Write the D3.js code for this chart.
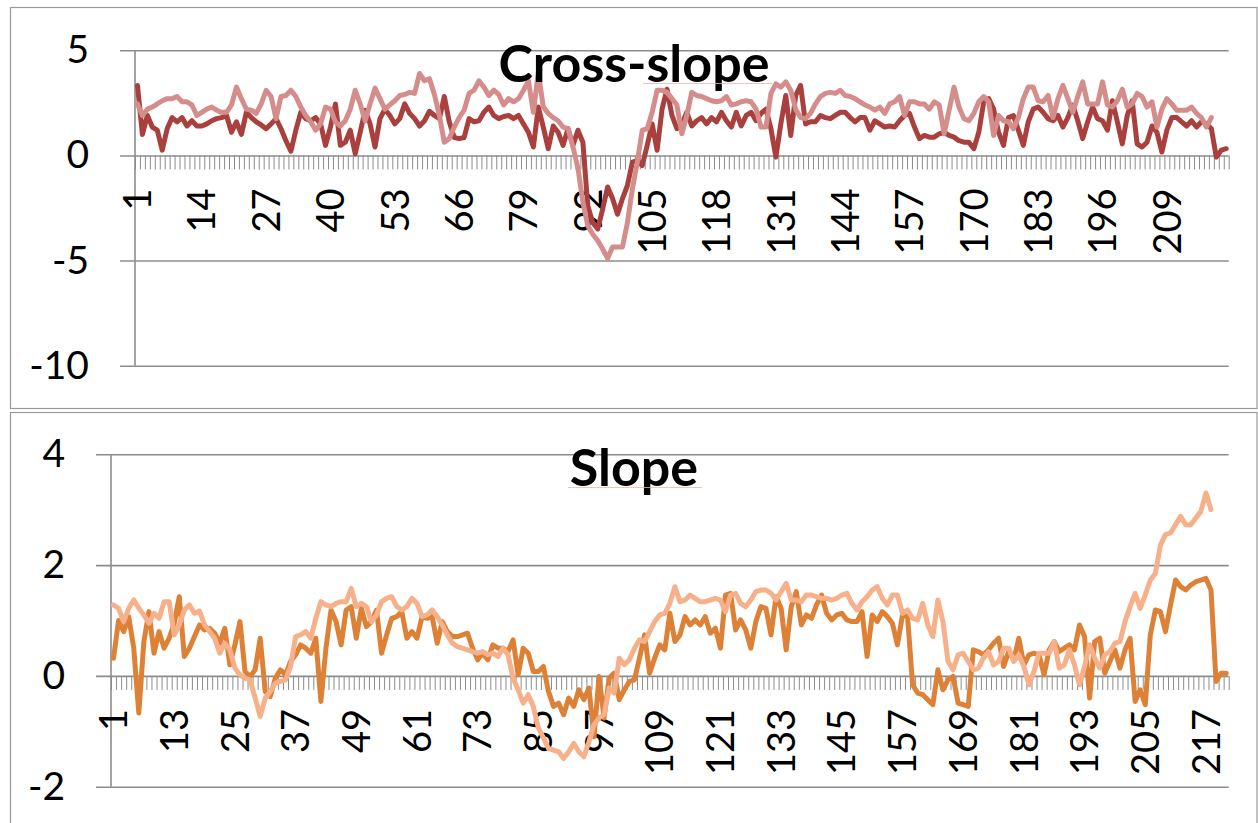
<!DOCTYPE html>
<html>
<head>
<meta charset="utf-8">
<script src="https://cdn.jsdelivr.net/npm/d3@7"></script>
<style>
  html, body { margin: 0; padding: 0; background: #fff; }
  svg { display: block; font-family: Lato, 'Open Sans', sans-serif; }
</style>
</head>
<body>
<svg id="container" width="1258" height="823"></svg>
<script>
// Cross-slope, darker series (221 points)
const crossDark = [
  3.33, 1.0, 1.9, 1.35, 1.2, 0.25, 1.27, 1.8, 1.6, 1.8,
  1.4, 1.65, 1.4, 1.4, 1.5, 1.65, 1.75, 1.8, 1.9, 1.1,
  1.6, 1.0, 2.05, 1.8, 1.6, 1.45, 1.27, 1.5, 1.75, 1.27,
  0.7, 0.2, 1.2, 2.05, 1.75, 1.65, 1.8, 1.5, 0.48, 1.35,
  2.45, 0.48, 0.63, 1.2, 0.08, 1.1, 2.15, 1.5, 0.4, 1.75,
  2.2, 1.9, 1.5, 1.75, 2.45, 2.0, 1.75, 1.4, 1.65, 2.1,
  1.9, 1.75, 2.8, 1.6, 0.85, 0.8, 0.85, 1.75, 1.6, 1.65,
  2.05, 2.3, 1.9, 1.75, 1.85, 1.9, 1.75, 1.9, 1.5, 1.1,
  0.4, 2.3, 1.35, 0.32, 1.4, 1.1, 0.48, 1.27, 0.48, 1.2,
  0.63, -2.4, -3.2, -3.5, -2.55, -1.5, -2.05, -2.8, -2.05, -1.43,
  -0.32, -0.25, -0.48, 0.48, 1.5, 0.25, 2.2, 3.15, 1.9, 1.27,
  1.5, 2.05, 1.4, 1.65, 1.8, 1.5, 1.8, 1.6, 2.05, 1.65,
  1.35, 2.05, 1.4, 1.9, 2.05, 1.65, 2.0, 2.2, 1.27, -0.08,
  1.5, 2.85, 0.95, 2.85, 3.33, 1.5, 1.6, 1.6, 1.9, 1.8,
  1.75, 1.9, 2.05, 2.05, 1.8, 1.6, 1.8, 1.8, 1.2, 1.65,
  1.5, 1.35, 1.4, 1.35, 1.65, 1.9, 2.0, 1.35, 0.8, 0.95,
  0.87, 0.87, 1.03, 1.1, 0.95, 0.87, 0.7, 0.63, 0.63, 0.32,
  1.1, 2.55, 2.7, 2.2, 1.1, 0.48, 1.8, 1.9, 1.2, 0.48,
  1.6, 2.2, 2.3, 2.05, 1.75, 1.65, 1.9, 1.35, 1.8, 2.4,
  1.65, 0.8, 1.6, 2.3, 1.75, 1.65, 1.2, 2.6, 1.6, 0.55,
  1.9, 2.6, 0.55, 0.4, 0.63, 1.4, 1.1, 0.16, 1.2, 1.8,
  1.8, 1.6, 1.4, 1.65, 1.35, 1.6, 1.5, 1.27, -0.08, 0.25, 0.32
]

// Cross-slope, lighter series (218 points)
const crossLight = [
  2.45, 1.9, 2.2, 2.3, 2.45, 2.6, 2.7, 2.7, 2.8, 2.55,
  2.55, 2.4, 1.9, 2.05, 2.2, 2.3, 2.15, 2.05, 2.05, 2.4,
  3.25, 2.7, 2.2, 2.15, 2.0, 2.45, 3.1, 2.8, 1.75, 2.8,
  2.85, 3.1, 2.8, 2.3, 1.9, 1.6, 1.2, 1.5, 2.3, 2.2,
  1.6, 1.4, 1.65, 2.2, 3.1, 2.45, 1.65, 2.45, 3.2, 2.7,
  2.2, 2.4, 2.6, 2.85, 2.9, 3.0, 2.95, 3.9, 3.55, 3.65,
  2.9, 1.9, 0.63, 0.8, 1.35, 1.8, 2.15, 2.95, 3.1, 3.55,
  3.25, 2.85, 3.1, 2.9, 2.4, 2.7, 2.55, 2.7, 3.1, 3.55,
  2.05, 3.95, 2.3, 2.0, 1.8, 1.65, 1.35, 1.27, 0.4, -0.6,
  -2.2, -3.35, -3.75, -4.05, -4.45, -4.9, -4.35, -4.35, -4.35, -3.2,
  -1.6, -0.32, 1.2, 1.27, 2.05, 3.1, 3.1, 3.0, 2.7, 2.4,
  1.03, 1.9, 3.0, 2.85, 2.8, 2.7, 2.6, 2.55, 2.6, 2.8,
  2.4, 2.45, 2.55, 2.6, 2.55, 2.2, 1.35, 1.35, 2.95, 3.4,
  3.25, 3.5, 3.1, 2.2, 1.8, 1.75, 2.0, 2.45, 2.8, 2.95,
  3.0, 2.95, 3.1, 2.85, 2.8, 2.7, 2.55, 2.4, 2.3, 2.15,
  2.3, 2.0, 2.45, 2.55, 2.8, 1.9, 2.55, 2.55, 2.45, 2.45,
  2.2, 2.55, 2.4, 1.03, 2.15, 3.25, 2.3, 1.75, 1.65, 2.0,
  2.55, 2.8, 2.55, 0.95, 1.9, 1.65, 1.6, 1.27, 1.8, 2.7,
  3.25, 3.25, 2.6, 2.55, 2.85, 1.8, 2.7, 3.33, 2.7, 2.05,
  2.8, 3.5, 2.45, 2.45, 2.45, 3.5, 2.4, 2.3, 2.6, 3.15,
  2.3, 2.45, 2.95, 2.8, 2.3, 2.55, 1.35, 2.2, 2.7, 2.45,
  2.15, 2.15, 2.15, 2.3, 2.0, 1.8, 1.35, 1.8
]

// Slope, darker series (221 points)
const slopeDark = [
  0.32, 1.0, 0.8, 1.07, 0.5, -0.67, 0.62, 1.16, 0.41, 0.8,
  0.5, 0.68, 0.95, 1.43, 0.35, 0.5, 0.71, 0.92, 0.83, 0.86,
  0.77, 0.59, 0.86, 0.2, 0.56, 0.98, 0.08, -0.01, 0.11, 0.68,
  -0.28, -0.37, -0.04, 0.11, 0.02, 0.26, 0.38, 0.56, 0.5, 0.41,
  0.68, -0.46, 0.5, 1.19, 0.98, 0.56, 1.19, 1.25, 0.68, 1.22,
  0.89, 0.98, 1.19, 0.41, 0.74, 1.04, 1.07, 1.16, 0.68, 0.8,
  0.68, 1.07, 1.04, 1.07, 0.59, 0.98, 0.8, 0.71, 0.71, 0.74,
  0.77, 0.5, 0.29, 0.41, 0.29, 0.56, 0.5, 0.5, 0.44, 0.65,
  0.02, 0.5, 0.41, 0.08, 0.08, 0.17, -0.28, -0.55, -0.49, -0.7,
  -0.4, -0.55, -0.25, -0.43, -0.22, -1.1, -0.01, -0.76, -0.04, 0.05,
  -0.43, -0.25, -0.1, -0.07, 0.32, 0.74, 0.05, 0.32, 0.56, 0.47,
  1.13, 0.62, 0.74, 1.07, 0.92, 1.01, 0.92, 1.07, 0.77, 0.86,
  0.5, 1.46, 1.49, 0.83, 1.01, 0.83, 0.5, 0.98, 1.25, 1.22,
  0.74, 1.43, 1.22, 0.47, 1.25, 1.52, 0.92, 1.1, 1.04, 1.28,
  1.46, 1.13, 1.01, 1.1, 1.13, 1.01, 0.98, 0.98, 1.16, 0.35,
  1.1, 0.98, 1.16, 1.07, 0.95, 0.56, 1.1, 1.07, -0.16, -0.31,
  -0.34, -0.43, -0.52, 0.11, -0.25, -0.07, -0.01, -0.49, -0.52, -0.55,
  0.47, 0.44, 0.38, 0.47, 0.59, 0.68, 0.17, 0.44, 0.29, 0.68,
  0.2, 0.38, 0.41, 0.38, 0.02, 0.47, 0.62, 0.44, 0.5, 0.56,
  0.47, 0.92, 0.71, -0.4, 0.62, 0.68, 0.05, 0.26, 0.47, 0.14,
  0.47, 0.68, -0.46, -0.25, -0.52, 0.74, 1.19, 1.16, 0.8, 1.28,
  1.73, 1.61, 1.55, 1.64, 1.7, 1.73, 1.76, 1.55, -0.1, 0.05, 0.05
]

// Slope, lighter series (218 points)
const slopeLight = [
  1.28, 1.22, 0.98, 1.22, 1.37, 1.22, 1.1, 0.95, 1.13, 1.04,
  1.34, 1.34, 0.74, 0.92, 1.19, 1.28, 1.13, 1.17, 0.92, 0.8,
  0.68, 0.41, 0.59, 0.47, 0.14, 0.02, -0.04, -0.07, -0.4, -0.73,
  -0.4, -0.28, -0.13, -0.1, -0.07, 0.17, 0.71, 0.74, 0.8, 0.68,
  1.04, 1.34, 1.28, 1.25, 1.31, 1.34, 1.34, 1.58, 1.25, 1.31,
  1.25, 0.98, 1.1, 1.34, 1.4, 1.43, 1.25, 1.19, 1.25, 1.4,
  1.31, 1.07, 1.1, 1.19, 1.07, 0.92, 0.74, 0.59, 0.53, 0.5,
  0.47, 0.44, 0.41, 0.44, 0.38, 0.41, 0.35, 0.5, 0.38, -0.04,
  -0.25, -0.49, -0.34, -0.55, -0.94, -1.12, -1.31, -1.34, -1.37, -1.49,
  -1.37, -1.22, -1.37, -1.46, -1.19, -0.88, -0.76, -0.7, -0.22, -0.31,
  0.32, 0.2, 0.29, 0.5, 0.65, 0.62, 0.8, 0.98, 1.1, 1.13,
  1.31, 1.61, 1.34, 1.37, 1.46, 1.4, 1.34, 1.34, 1.37, 1.4,
  1.37, 1.16, 1.46, 1.49, 1.31, 1.25, 1.37, 1.52, 1.55, 1.55,
  1.49, 1.37, 1.52, 1.67, 1.37, 1.37, 1.34, 1.46, 1.46, 1.43,
  1.4, 1.4, 1.37, 1.4, 1.46, 1.49, 1.31, 1.19, 1.34, 1.43,
  1.55, 1.61, 1.4, 1.28, 1.46, 1.46, 1.13, 1.19, 1.04, 1.01,
  1.31, 0.92, 0.71, 1.37, 0.98, 0.26, 0.11, 0.38, 0.41, 0.26,
  0.11, 0.14, 0.32, 0.44, 0.2, 0.26, 0.5, 0.5, 0.26, 0.38,
  0.17, -0.16, 0.08, 0.41, 0.41, 0.41, 0.62, 0.14, 0.2, 0.47,
  0.2, -0.16, 0.17, 0.56, 0.32, 0.14, 0.38, 0.44, 0.59, 0.62,
  0.98, 1.25, 1.49, 1.22, 1.46, 1.73, 1.85, 2.36, 2.55, 2.58,
  2.73, 2.88, 2.73, 2.73, 2.85, 2.97, 3.3, 3.0
]

const categoryCount = 221
const crossYTicks = [5, 0, -5, -10]
const slopeYTicks = [4, 2, 0, -2]
const crossXLabels = [1, 14, 27, 40, 53, 66, 79, 92, 105, 118, 131, 144, 157, 170, 183, 196, 209]
const slopeXLabels = [1, 13, 25, 37, 49, 61, 73, 85, 97, 109, 121, 133, 145, 157, 169, 181, 193, 205, 217]

const svg = d3.select('#container')
const gray = '#8c8c8c'

const panels = [
  {
    title: 'Cross-slope', dark: crossDark, light: crossLight,
    yDomain: [-10, 5], yTicks: crossYTicks, xLabels: crossXLabels,
    colors: ['#a9403d', '#d48d8b'],
    frame: { y: 7.5, h: 401 },
    plot: { left: 135, right: 1228.7, top: 50.3, bottom: 365.7 },
    titleY: 82, squiggle: [643, 772]
  },
  {
    title: 'Slope', dark: slopeDark, light: slopeLight,
    yDomain: [-2, 4], yTicks: slopeYTicks, xLabels: slopeXLabels,
    colors: ['#dd8136', '#f6b08a'],
    frame: { y: 412.5, h: 430 },
    plot: { left: 111, right: 1228.7, top: 454.3, bottom: 786.7 },
    titleY: 486, squiggle: [568, 702]
  }
]

panels.forEach(drawPanel)

function drawPanel(p) {
  const g = svg.append('g')

  g.append('rect')
    .attr('x', 10.5)
    .attr('y', p.frame.y)
    .attr('width', 1246.5)
    .attr('height', p.frame.h)
    .attr('fill', '#fff')
    .attr('stroke', '#999')
    .attr('stroke-width', 1.2)

  const y = d3.scaleLinear().domain(p.yDomain).range([p.plot.bottom, p.plot.top])
  const x = d3
    .scaleBand()
    .domain(d3.range(1, categoryCount + 1))
    .range([p.plot.left, p.plot.right])
    .padding(0)
  const bw = x.bandwidth()
  const edge = d3.scaleLinear().domain([0, categoryCount]).range([p.plot.left, p.plot.right])

  // gridlines + y labels (plain hyphen minus, as in the source)
  const yAxis = g
    .append('g')
    .attr('transform', `translate(${p.plot.left - 15},0)`)
    .call(
      d3.axisLeft(y)
        .tickValues(p.yTicks)
        .tickSize(-(p.plot.right - p.plot.left + 15))
        .tickPadding(31)
        .tickFormat((d) => String(d))
    )
  yAxis.select('.domain').remove()
  yAxis.selectAll('line').attr('stroke', gray).attr('stroke-width', 1.6)
  yAxis
    .selectAll('text')
    .attr('font-size', 39)
    .attr('font-family', 'Lato, sans-serif')
    .attr('fill', '#000')

  // vertical axis line
  g.append('line')
    .attr('x1', p.plot.left)
    .attr('x2', p.plot.left)
    .attr('y1', p.plot.top)
    .attr('y2', p.plot.bottom)
    .attr('stroke', gray)
    .attr('stroke-width', 1.6)

  // category tick marks along zero line
  const xAxis = g
    .append('g')
    .attr('transform', `translate(0,${y(0)})`)
    .call(
      d3.axisBottom(edge)
        .tickValues(d3.range(0, categoryCount + 1))
        .tickSize(14)
        .tickFormat('')
    )
  xAxis.select('.domain').remove()
  xAxis.selectAll('line').attr('stroke', gray).attr('stroke-width', 1)

  // rotated category labels
  g.append('g')
    .selectAll('text')
    .data(p.xLabels)
    .enter()
    .append('text')
    .attr('transform', (d) => `translate(${x(d) + bw / 2},${y(0) + 33}) rotate(-90)`)
    .attr('text-anchor', 'end')
    .attr('dy', '0.36em')
    .attr('font-size', 38)
    .attr('fill', '#000')
    .text((d) => d)

  const line = d3
    .line()
    .x((d, i) => x(i + 1) + bw / 2)
    .y((d) => y(d))

  ;[p.dark, p.light].forEach((series, i) => {
    g.append('path')
      .datum(series)
      .attr('d', line)
      .attr('fill', 'none')
      .attr('stroke', p.colors[i])
      .attr('stroke-width', 5)
      .attr('stroke-linejoin', 'round')
      .attr('stroke-linecap', 'round')
  })

  g.append('text')
    .attr('x', 634)
    .attr('y', p.titleY)
    .attr('text-anchor', 'middle')
    .attr('font-size', 52)
    .attr('font-weight', 'bold')
    .attr('fill', '#000')
    .text(p.title)

  // faint spell-check underline seen in the source
  g.append('line')
    .attr('x1', p.squiggle[0])
    .attr('x2', p.squiggle[1])
    .attr('y1', p.titleY + 1.5)
    .attr('y2', p.titleY + 1.5)
    .attr('stroke', '#f4b0b0')
    .attr('stroke-width', 0.8)
}
</script>
</body>
</html>
